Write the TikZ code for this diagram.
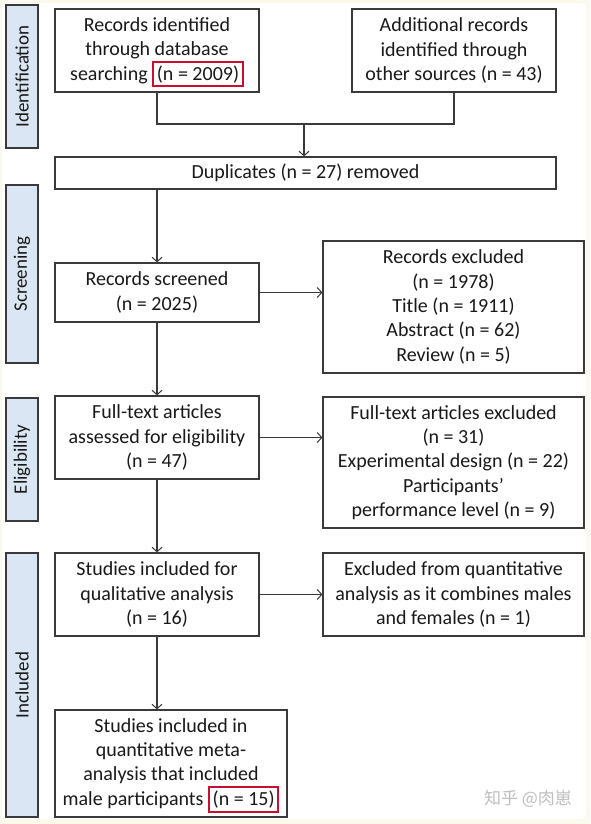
\documentclass[tikz,border=0pt]{standalone}
\usepackage{fontspec}
\setmainfont{Carlito}
\newfontfamily\cjkfont{Noto Sans CJK SC}
\usetikzlibrary{arrows.meta}
\definecolor{cream}{HTML}{FBF8EC}
\definecolor{barblue}{HTML}{DAE6F4}
\definecolor{edge}{HTML}{3A3A3A}
\definecolor{hired}{HTML}{C8102E}
\newcommand{\redmark}[1]{{\setlength{\fboxsep}{2.5pt}\setlength{\fboxrule}{2.2pt}\smash{\fcolorbox{hired}{white}{#1}}}}
\tikzset{
  flowbox/.style={draw=edge, line width=1.2pt, fill=white, align=center, inner sep=2pt,
    font=\fontsize{20}{24.3}\selectfont, text=black!90},
  sidebar/.style={draw=edge, line width=1.2pt, fill=barblue, minimum width=32pt,
    font=\fontsize{19}{22}\selectfont, text=black!90},
  link/.style={draw=edge, line width=1.1pt},
  flowarrow/.style={link, -{Straight Barb[length=4.5pt,width=10pt,line width=1pt]}}
}
\begin{document}
\begin{tikzpicture}[x=1pt,y=-1pt]
\useasboundingbox (0,0) rectangle (590,824);
\fill[cream] (0,0) rectangle (590,824);
\fill[white, rounded corners=4pt] (2,3) rectangle (586,819);

% side bars
\node[sidebar, minimum height=143pt] (sid) at (22,76.5) {\rotatebox{90}{Identification}};
\node[sidebar, minimum height=178pt] (sscr) at (22,274) {\rotatebox{90}{Screening}};
\node[sidebar, minimum height=123pt] (self) at (22,459.5) {\rotatebox{90}{Eligibility}};
\node[sidebar, minimum height=264pt] (sinc) at (22,685) {\rotatebox{90}{Included}};

% boxes
\node[flowbox, minimum width=204pt, minimum height=83pt] (db) at (157,50.5)
  {Records identified\\through database\\searching \redmark{(n = 2009)}};
\node[flowbox, minimum width=204pt, minimum height=83pt] (other) at (454,50.5)
  {Additional records\\identified through\\other sources (n = 43)};
\node[flowbox, minimum width=501pt, minimum height=32pt] (dup) at (305.5,173)
  {Duplicates (n = 27) removed};
\node[flowbox, minimum width=204pt, minimum height=59pt] (scr) at (157,292.5)
  {Records screened\\(n = 2025)};
\node[flowbox, minimum width=261pt, minimum height=132pt] (rexc) at (453.5,307)
  {Records excluded\\(n = 1978)\\Title (n = 1911)\\Abstract (n = 62)\\Review (n = 5)};
\node[flowbox, minimum width=204pt, minimum height=83pt] (full) at (157,437.5)
  {Full-text articles\\assessed for eligibility\\(n = 47)};
\node[flowbox, minimum width=261pt, minimum height=131pt] (fexc) at (453.5,462.5)
  {Full-text articles excluded\\(n = 31)\\Experimental design (n = 22)\\Participants’\\performance level (n = 9)};
\node[flowbox, minimum width=204pt, minimum height=83pt] (qual) at (157,594.5)
  {Studies included for\\qualitative analysis\\(n = 16)};
\node[flowbox, minimum width=261pt, minimum height=83pt] (qexc) at (453.5,594.5)
  {Excluded from quantitative\\analysis as it combines males\\and females (n = 1)};
\node[flowbox, minimum width=232pt, minimum height=107pt] (quant) at (171,763.5)
  {Studies included in\\quantitative meta-\\analysis that included\\male participants \redmark{(n = 15)}};

% connectors
\coordinate (join) at (304,124);
\draw[link] (db.south) |- (join) -| (other.south);
\draw[flowarrow] (join) -- (join |- dup.north);
\draw[flowarrow] (db.south |- dup.south) -- (scr.north);
\draw[flowarrow] (scr.east) -- (rexc.west |- scr.east);
\draw[flowarrow] (scr.south) -- (full.north);
\draw[flowarrow] (full.east) -- (fexc.west |- full.east);
\draw[flowarrow] (full.south) -- (qual.north);
\draw[flowarrow] (qual.east) -- (qexc.west |- qual.east);
\draw[flowarrow] (qual.south) -- (qual.south |- quant.north);

% watermark
\node[text=black!25, font=\cjkfont\fontsize{17}{19}\selectfont] (wm) at (528,799) {知乎 @肉崽};
\end{tikzpicture}
\end{document}
